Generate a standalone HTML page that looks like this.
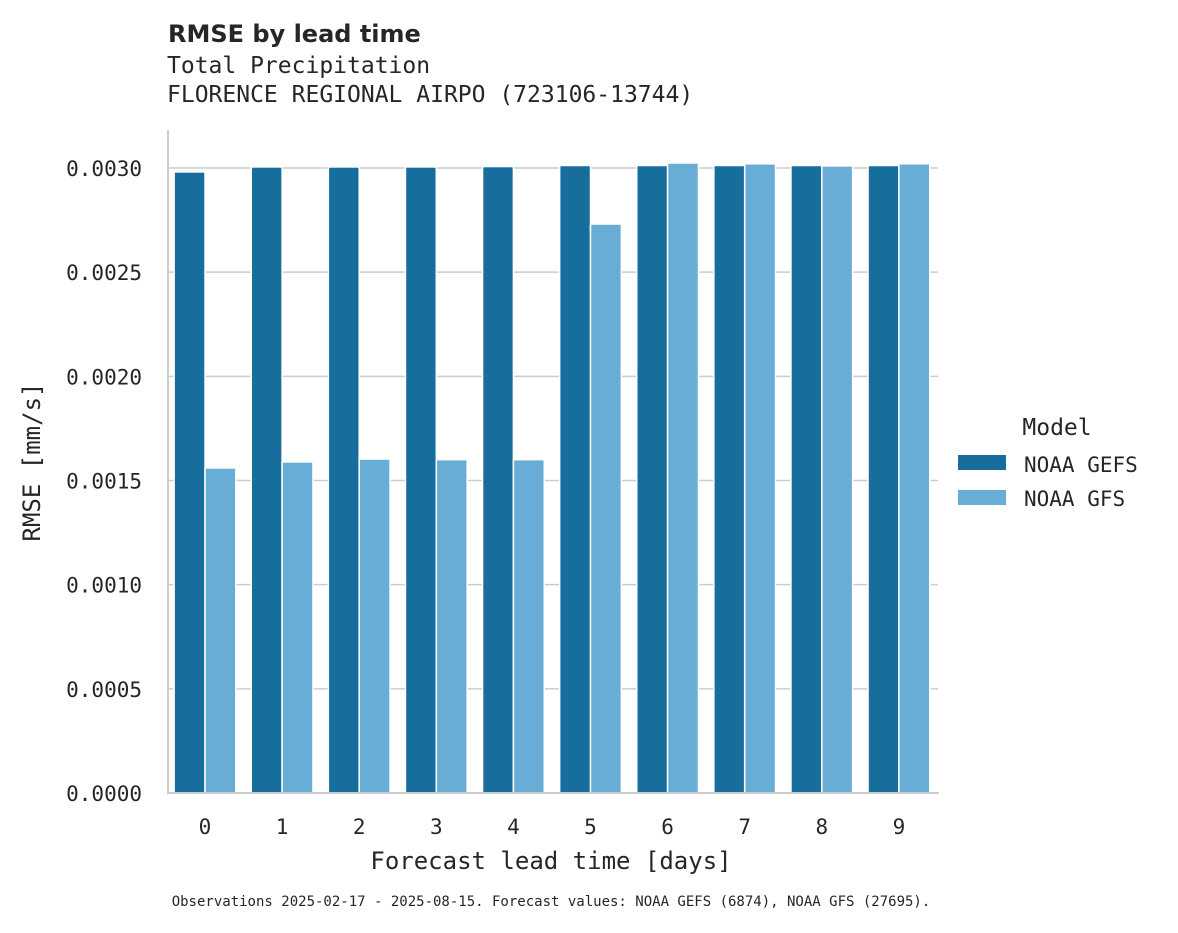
<!DOCTYPE html>
<html><head><meta charset="utf-8"><style>
body{margin:0;background:#fff;}
svg text{font-family:"DejaVu Sans Mono","Liberation Mono",monospace;fill:#262626;}
</style></head><body>
<svg width="1178" height="928" xmlns="http://www.w3.org/2000/svg">
<text x="168" y="42" style="font-family:'DejaVu Sans','Liberation Sans',sans-serif;font-weight:bold;font-size:24px">RMSE by lead time</text>
<text x="167" y="73" font-size="23">Total Precipitation</text>
<text x="167" y="102" font-size="23">FLORENCE REGIONAL AIRPO (723106-13744)</text>
<g id="grid"></g>
<g id="bars"></g>
<line x1="168" y1="130" x2="168" y2="794" stroke="#cccccc" stroke-width="2"/>
<line x1="167" y1="793" x2="939" y2="793" stroke="#cccccc" stroke-width="2"/>
<g id="ticks"></g>
<text x="551" y="869" font-size="24" text-anchor="middle">Forecast lead time [days]</text>
<text transform="translate(40,462) rotate(-90)" font-size="24" text-anchor="middle">RMSE [mm/s]</text>
<g>
<text x="1057" y="435" font-size="23" text-anchor="middle">Model</text>
<rect x="958" y="455" width="48" height="15" fill="#176d9c"/>
<text x="1024" y="472" font-size="21">NOAA GEFS</text>
<rect x="958" y="490" width="48" height="15" fill="#67add6"/>
<text x="1024" y="506" font-size="21">NOAA GFS</text>
</g>
<text x="551" y="906" font-size="14" text-anchor="middle">Observations 2025-02-17 - 2025-08-15. Forecast values: NOAA GEFS (6874), NOAA GFS (27695).</text>
</svg>
<script>
const categories=[0,1,2,3,4,5,6,7,8,9];
const gefsValues=[0.002981,0.003005,0.003005,0.003005,0.003007,0.003012,0.003012,0.003012,0.003012,0.003012];
const gfsValues=[0.00156,0.001589,0.001603,0.0016,0.0016,0.002731,0.003024,0.00302,0.00301,0.00302];
const yTicks=[0,0.0005,0.001,0.0015,0.002,0.0025,0.003];
const yTickLabels=["0.0000","0.0005","0.0010","0.0015","0.0020","0.0025","0.0030"];
const NS="http://www.w3.org/2000/svg";
const y0=793,yPerUnit=625/0.003,x0=205,step=77.1,band=61.7;
const yScale=v=>y0-v*yPerUnit;
const xScale=i=>x0+i*step;
const grid=document.getElementById('grid'),bars=document.getElementById('bars'),ticks=document.getElementById('ticks');
yTicks.forEach((t,i)=>{
  const y=yScale(t);
  if(t>0){const l=document.createElementNS(NS,'line');
  l.setAttribute('x1',168);l.setAttribute('x2',938);l.setAttribute('y1',y);l.setAttribute('y2',y);
  l.setAttribute('stroke','#cccccc');l.setAttribute('stroke-width','1.5');
  
  
  grid.appendChild(l);}
  const tx=document.createElementNS(NS,'text');
  tx.setAttribute('x',142);tx.setAttribute('y',y+8);tx.setAttribute('font-size','21');tx.setAttribute('text-anchor','end');
  tx.textContent=yTickLabels[i];
  
  
  ticks.appendChild(tx);
});
function bar(x,v,color,name){
  const r=document.createElementNS(NS,'rect');
  r.setAttribute('x',x);r.setAttribute('width',band/2);
  r.setAttribute('y',yScale(v));r.setAttribute('height',y0-yScale(v));
  r.setAttribute('fill',color);r.setAttribute('stroke','#fff');r.setAttribute('stroke-width','1.5');
  
  
  bars.appendChild(r);
}
categories.forEach((c,i)=>{
  const cx=xScale(i);
  bar(cx-band/2,gefsValues[i],'#176d9c','bar-gefs-'+c);
  bar(cx,gfsValues[i],'#67add6','bar-gfs-'+c);
  const tx=document.createElementNS(NS,'text');
  tx.setAttribute('x',cx);tx.setAttribute('y',834);tx.setAttribute('font-size','21');tx.setAttribute('text-anchor','middle');
  tx.textContent=c;
  
  
  ticks.appendChild(tx);
});
</script>
</body></html>
